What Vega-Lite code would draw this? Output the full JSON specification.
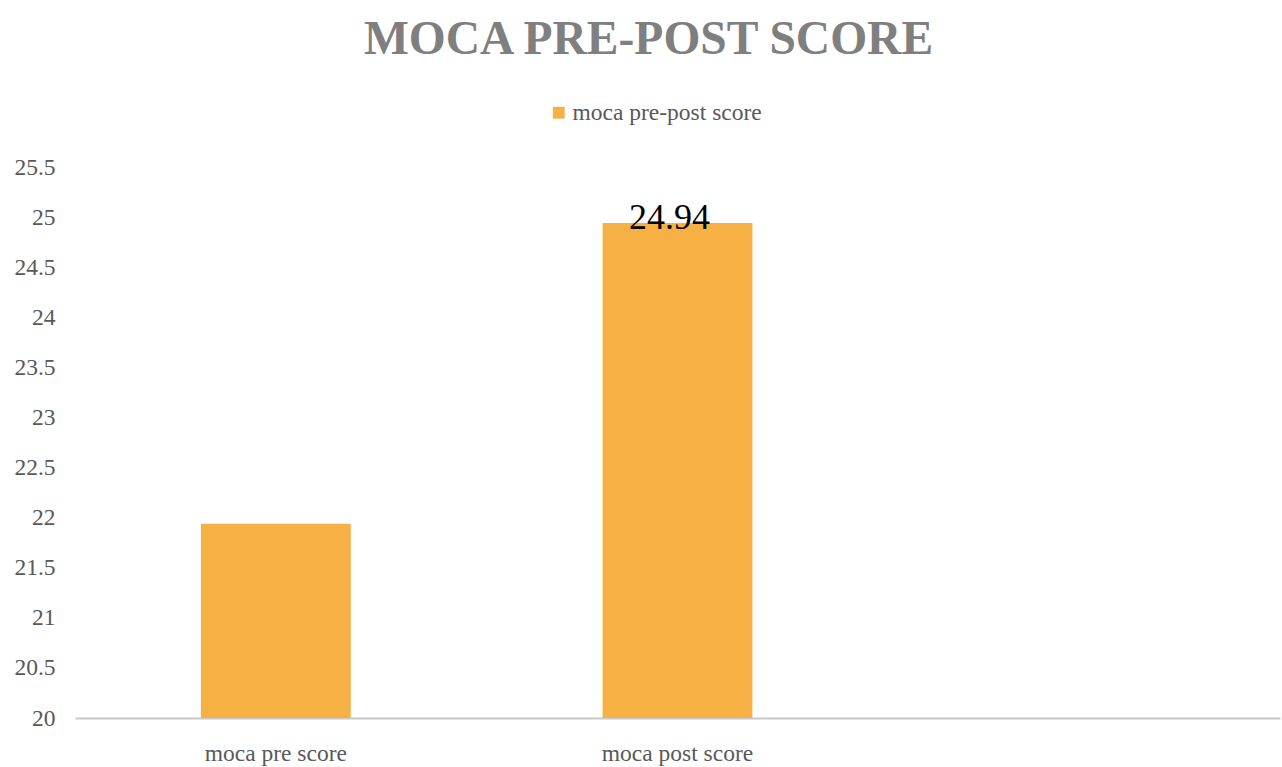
{
  "$schema": "https://vega.github.io/schema/vega-lite/v6.json",
  "autosize": "none",
  "width": 1205,
  "height": 551,
  "padding": {"left": 75, "top": 167, "right": 2, "bottom": 49},
  "background": "white",
  "title": {
    "text": "MOCA PRE-POST SCORE",
    "font": "Liberation Serif",
    "fontSize": 47.5,
    "fontWeight": "bold",
    "color": "#7f7f7f",
    "anchor": "middle",
    "dx": -29,
    "offset": 38
  },
  "config": {
    "view": {"stroke": null},
    "font": "Liberation Serif"
  },
  "data": {
    "values": [
      {"category": "moca pre score", "score": 21.94, "label": "", "series": "moca pre-post score"},
      {"category": "moca post score", "score": 24.94, "label": "24.94", "series": "moca pre-post score"}
    ]
  },
  "encoding": {
    "x": {
      "field": "category",
      "type": "nominal",
      "sort": null,
      "scale": {"domain": ["moca pre score", "moca post score", " "], "paddingInner": 0.627, "paddingOuter": 0.3135},
      "axis": {
        "title": null,
        "labelAngle": 0,
        "labelFont": "Liberation Serif",
        "labelFontSize": 23.5,
        "labelColor": "#595959",
        "labelPadding": 23,
        "ticks": false,
        "domainColor": "#c8c8c8",
        "domainWidth": 2,
        "grid": false
      }
    },
    "y": {
      "field": "score",
      "type": "quantitative",
      "scale": {"domain": [20, 25.5], "nice": false, "zero": false},
      "axis": {
        "title": null,
        "values": [20, 20.5, 21, 21.5, 22, 22.5, 23, 23.5, 24, 24.5, 25, 25.5],
        "format": "~g",
        "labelFont": "Liberation Serif",
        "labelFontSize": 23.5,
        "labelColor": "#595959",
        "labelPadding": 20,
        "ticks": false,
        "domain": false,
        "grid": false
      }
    }
  },
  "layer": [
    {
      "mark": {"type": "bar", "clip": true},
      "encoding": {
        "color": {
          "field": "series",
          "type": "nominal",
          "scale": {"range": ["#f6b043"]},
          "legend": {
            "title": null,
            "orient": "none",
            "legendX": 472,
            "legendY": -66,
            "symbolType": "square",
            "symbolSize": 140,
            "labelFont": "Liberation Serif",
            "labelFontSize": 23.5,
            "labelColor": "#595959",
            "labelOffset": 2,
            "labelLimit": 0
          }
        }
      }
    },
    {
      "mark": {"type": "text", "baseline": "alphabetic", "dy": 6, "dx": -8, "font": "Liberation Serif", "fontSize": 36, "color": "#000000"},
      "encoding": {
        "text": {"field": "label"}
      }
    }
  ]
}
